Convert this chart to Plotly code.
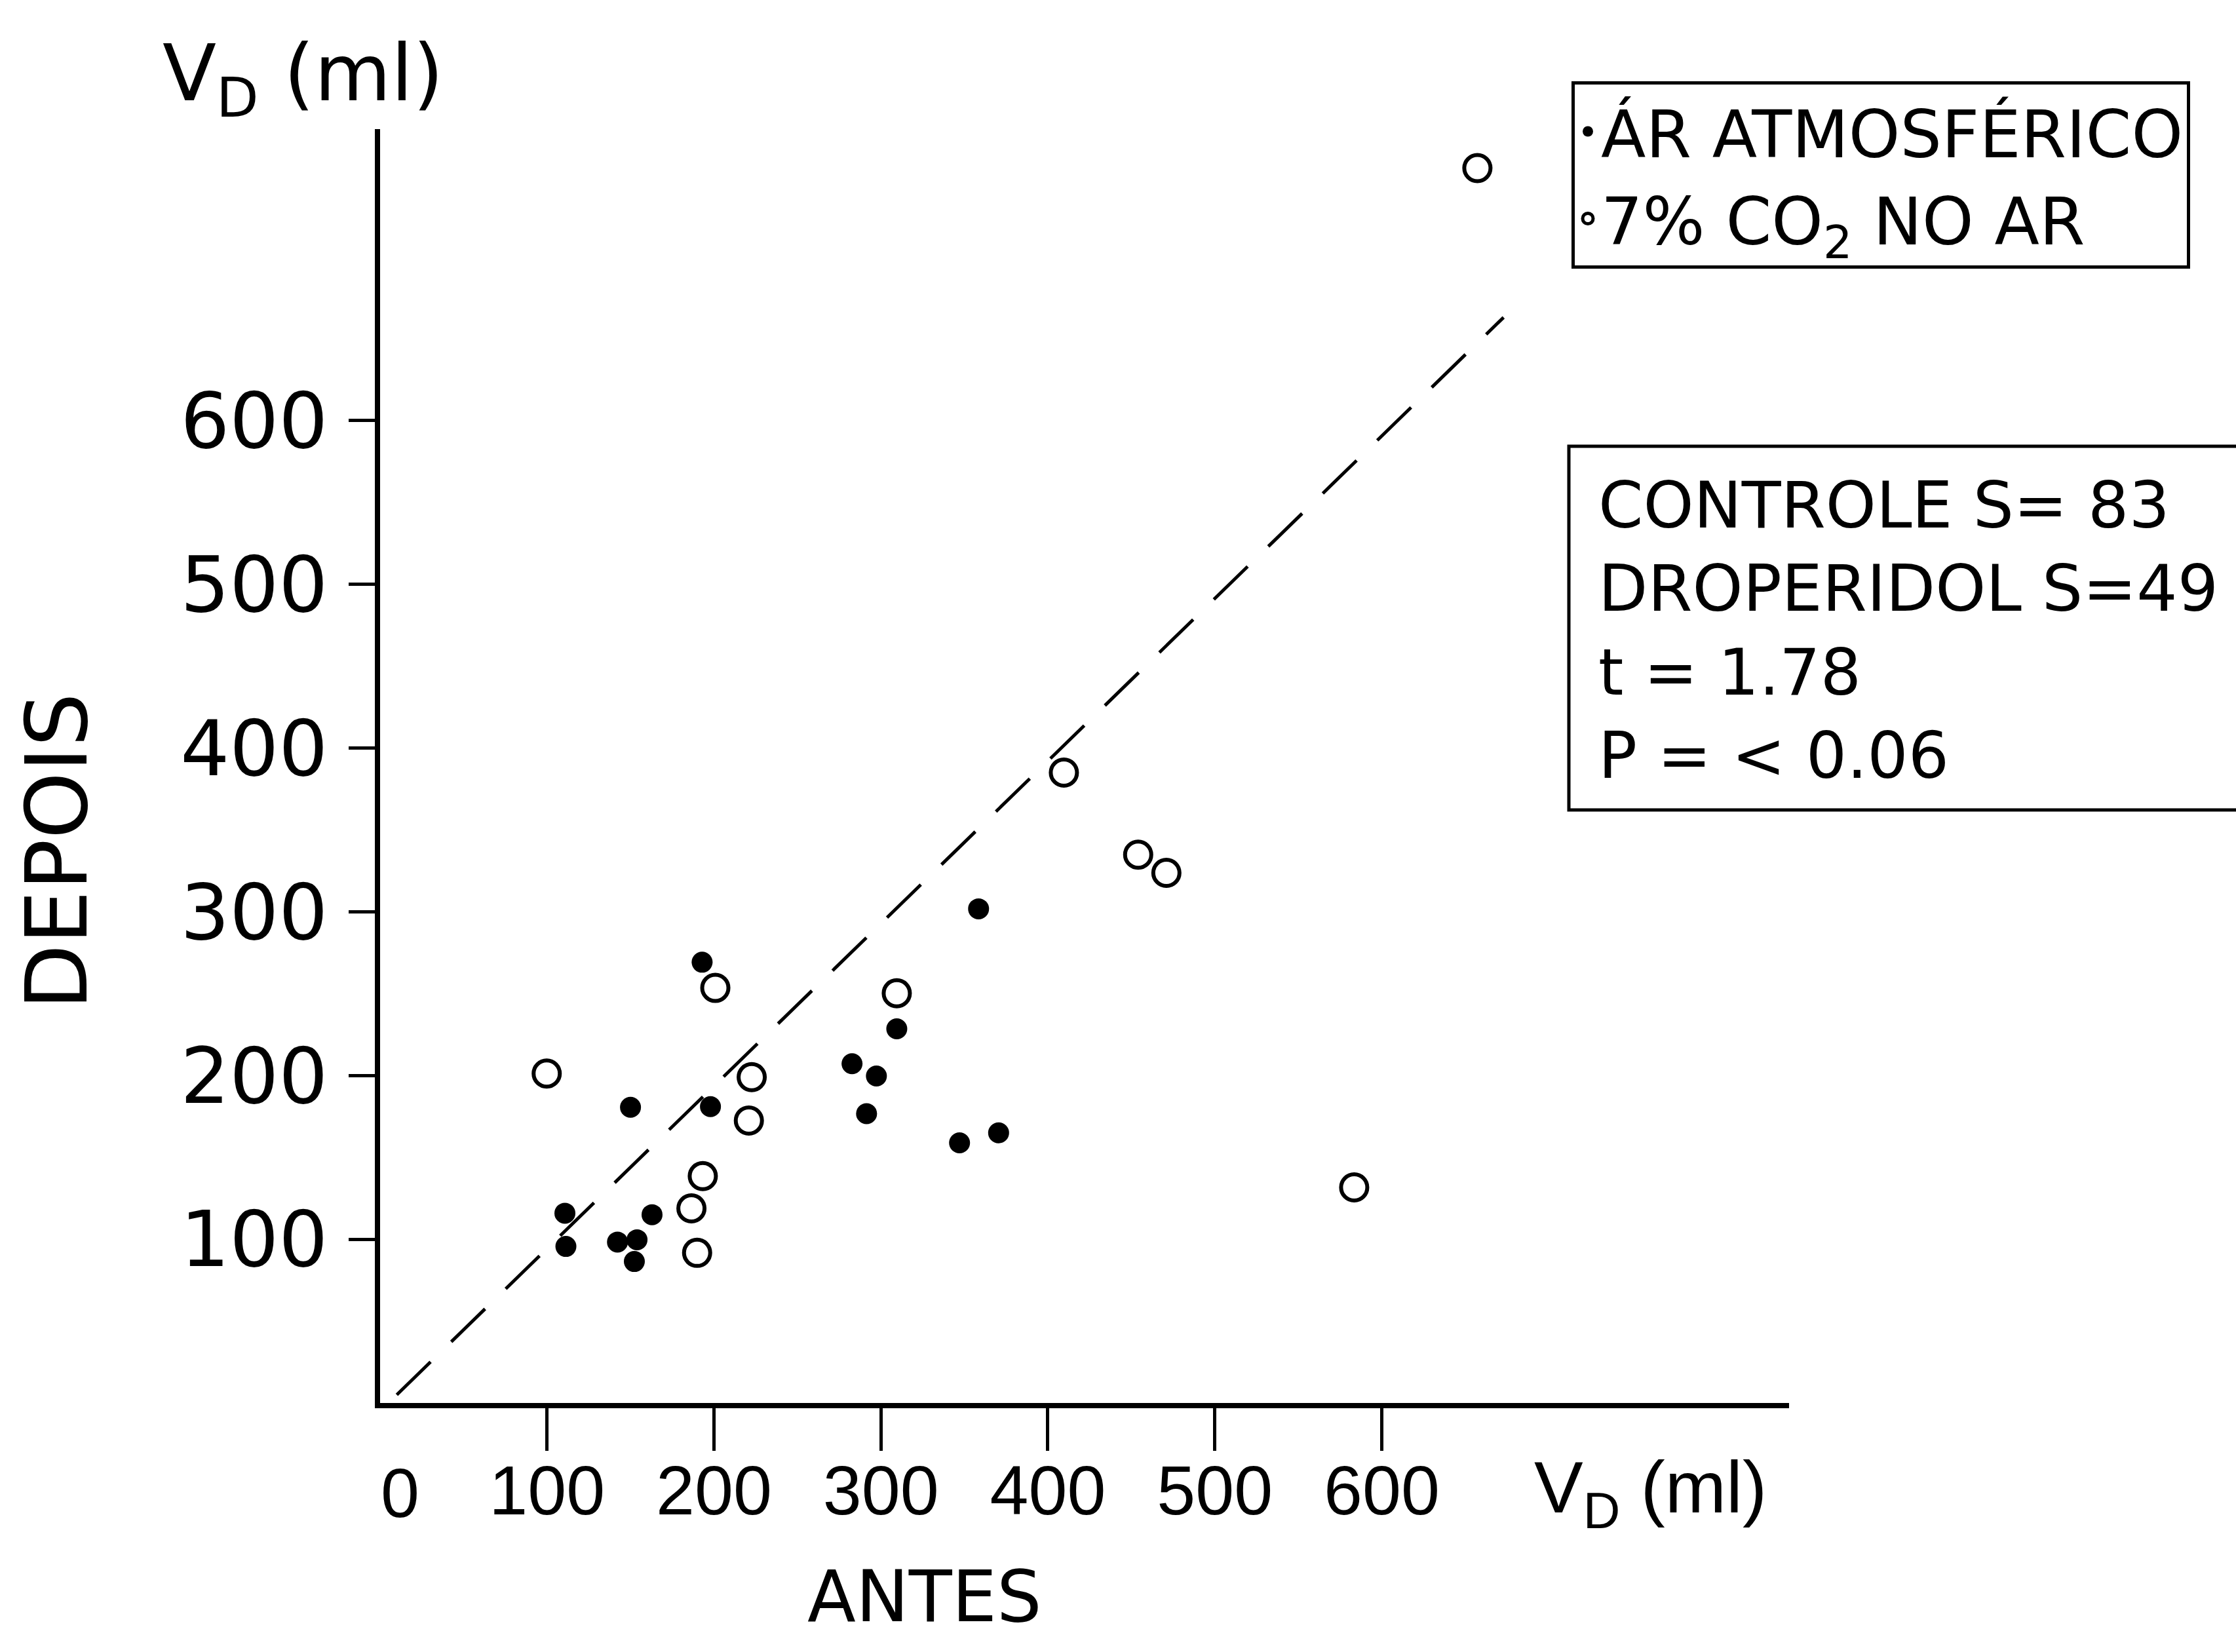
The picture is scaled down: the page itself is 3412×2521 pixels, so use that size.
import plotly.graph_objects as go

# ---- data ----
ar_antes = [192.9, 309.5, 282.7, 297.3, 291.4, 150.0, 197.9, 162.9, 110.7, 111.3, 142.2, 153.9, 152.3, 358.5, 347.1, 370.5]
ar_depois = [269.2, 228.5, 207.2, 199.7, 176.7, 180.6, 181.0, 115.0, 115.9, 95.6, 98.3, 99.7, 86.4, 301.8, 158.9, 165.0]

co2_antes = [200.8, 309.5, 99.8, 222.6, 220.9, 193.3, 186.5, 189.9, 409.6, 454.1, 471.0, 583.5, 657.3]
co2_depois = [253.5, 250.2, 201.2, 199.0, 172.5, 138.6, 118.9, 91.7, 385.0, 334.9, 323.8, 131.7, 754.2]

ref_line_x = [10, 673]
ref_line_y = [5, 663]

tick_vals = [100, 200, 300, 400, 500, 600]
tick_text = ["100", "200", "300", "400", "500", "600"]

stats_lines = ["CONTROLE S= 83", "DROPERIDOL S=49", "t = 1.78", "P = < 0.06"]

# ---- figure ----
W, H = 3412, 2521
ML, MR, MT, MB = 580, 682, 197, 380
PW, PH = W - ML - MR, H - MT - MB


def px(X):
    return (X - ML) / PW


def py(Y):
    return (H - MB - Y) / PH


FONT = "DejaVu Sans, Liberation Sans, sans-serif"
NARROW = "Liberation Sans, Arial, sans-serif"

fig = go.Figure()
fig.add_trace(go.Scatter(
    x=ref_line_x, y=ref_line_y, mode="lines", showlegend=False,
    line=dict(color="black", width=5, dash="72px,44px"), hoverinfo="skip"))
fig.add_trace(go.Scatter(
    x=ar_antes, y=ar_depois, mode="markers", name="ÁR ATMOSFÉRICO",
    marker=dict(color="black", size=32, symbol="circle")))
fig.add_trace(go.Scatter(
    x=co2_antes, y=co2_depois, mode="markers", name="7% CO<sub>2</sub> NO AR",
    marker=dict(color="black", size=40, symbol="circle-open", line=dict(width=6, color="black"))))

fig.update_layout(
    width=W, height=H,
    margin=dict(l=ML, r=MR, t=MT, b=MB, pad=0),
    paper_bgcolor="white", plot_bgcolor="white",
    font=dict(family=FONT, color="black", size=90),
    showlegend=True,
    legend=dict(x=px(2398), y=py(124), xanchor="left", yanchor="top",
                bordercolor="black", borderwidth=5, bgcolor="white",
                font=dict(family=FONT, size=100, color="black"),
                itemsizing="trace", tracegroupgap=0),
    xaxis=dict(range=[0, 844], showline=True, linecolor="black", linewidth=8,
               ticks="outside", ticklen=65, tickwidth=5, tickcolor="black",
               tickvals=tick_vals, ticktext=tick_text,
               tickfont=dict(family=NARROW, size=106, color="black"),
               ticklabelstandoff=-30,
               showgrid=False, zeroline=False, automargin=False),
    yaxis=dict(range=[0, 778], showline=True, linecolor="black", linewidth=8,
               ticks="outside", ticklen=40, tickwidth=5, tickcolor="black",
               tickvals=tick_vals, ticktext=tick_text,
               tickfont=dict(family=FONT, size=118, color="black"),
               ticklabelstandoff=8,
               showgrid=False, zeroline=False, automargin=False),
)

# "0" at origin of x axis
fig.add_annotation(x=12, xref="x", y=py(2278), yref="paper", text="0", showarrow=False,
                   font=dict(family=NARROW, size=106), xanchor="center", yanchor="middle")
# x axis unit
fig.add_annotation(x=px(2339), xref="paper", y=py(2278), yref="paper",
                   text="V<sub>D</sub> (ml)", showarrow=False,
                   font=dict(family=NARROW, size=112), xanchor="left", yanchor="middle")
# ANTES
fig.add_annotation(x=px(1410), xref="paper", y=py(2436), yref="paper", text="ANTES",
                   showarrow=False, font=dict(family=FONT, size=108),
                   xanchor="center", yanchor="middle", borderpad=0)
# DEPOIS
fig.add_annotation(x=px(87), xref="paper", y=py(1299), yref="paper", text="DEPOIS",
                   showarrow=False, textangle=-90, font=dict(family=FONT, size=130),
                   xanchor="center", yanchor="middle")
# y axis unit
fig.add_annotation(x=px(462), xref="paper", y=py(120), yref="paper",
                   text="V<sub>D</sub> (ml)", showarrow=False,
                   font=dict(family=FONT, size=120), xanchor="center", yanchor="middle")

# stats box
fig.add_shape(type="rect", xref="paper", yref="paper",
              x0=px(2394), x1=px(3440), y0=py(1236), y1=py(681),
              line=dict(color="black", width=5), fillcolor="rgba(0,0,0,0)")
fig.add_annotation(x=px(2437), xref="paper", y=py(962), yref="paper",
                   text="<br>".join(stats_lines), showarrow=False, align="left",
                   font=dict(family=FONT, size=98), xanchor="left", yanchor="middle")

fig.write_html("out.html", config={"displayModeBar": False},
               post_script="document.body.style.margin='0';")
